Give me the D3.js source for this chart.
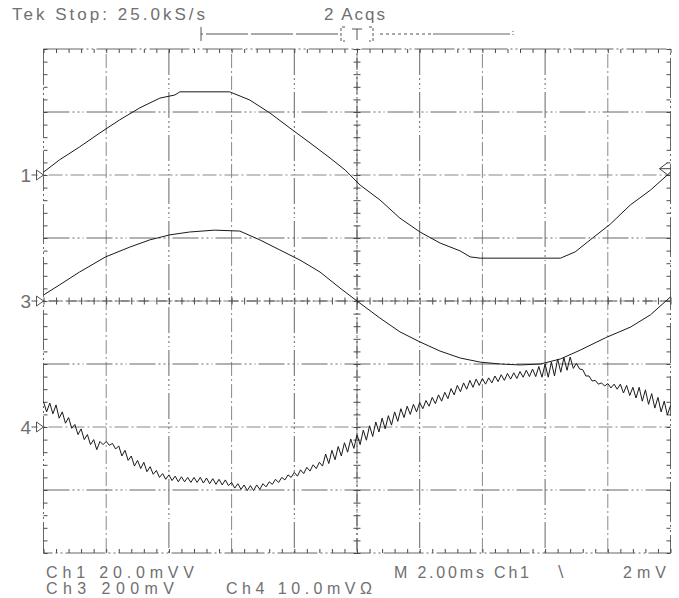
<!DOCTYPE html>
<html>
<head>
<meta charset="utf-8">
<script src="https://cdn.jsdelivr.net/npm/d3@7"></script>
<style>
  body { margin: 0; background: #fff; }
  text { font-family: "Liberation Sans", Arial, sans-serif; fill: #707070; }
  .tick line { stroke: #4a4a4a; }
</style>
</head>
<body>
<div id="chart" style="width:679px;height:598px"></div>
<script>
// --- DATA (time in ms, values in each channel's own mV) ---
const ch1Time = [0, 0.51, 1.15, 1.79, 2.43, 3.07, 3.71, 4.19, 4.35, 5.94, 6.58, 7.22, 7.86, 8.50, 9.14, 9.62,
                 10.10, 10.73, 11.37, 12.01, 12.65, 13.29, 13.61, 13.93, 16.49, 16.96, 17.44, 18.08, 18.72, 19.36, 20.0];
const ch1mV = [0.9, 4.8, 8.9, 13.3, 17.5, 21.3, 24.4, 25.4, 26.4, 26.4, 23.8, 19.7, 14.9, 10.2, 5.4, 1.6,
               -3.2, -7.9, -13.7, -18.1, -21.6, -24.1, -26.0, -26.4, -26.4, -24.4, -20.6, -15.6, -9.5, -4.8, 0.9];

const ch3Time = [0, 0.51, 1.15, 1.98, 2.75, 3.39, 4.03, 4.66, 5.46, 6.26, 6.90, 7.54, 8.18, 8.82, 9.46, 10.0,
                 10.73, 11.37, 12.01, 12.65, 13.29, 13.93, 14.57, 15.21, 15.85, 16.49, 17.12, 17.92, 18.72, 19.36, 20.0];
const ch3mV = [19, 51, 92, 140, 171, 194, 210, 219, 225, 222, 194, 162, 130, 92, 41, 0,
               -54, -98, -130, -159, -181, -194, -200, -203, -200, -184, -156, -117, -83, -44, 13];

// ch4 is sampled every 0.1 ms (noisy trace)
const ch4Step = 0.1;
const ch4mV = [
  4.0, 2.4, 3.8, 2.1, 3.5, 1.4, 2.4, 0.6, 1.5, -0.2,
  0.4, -1.2, -0.3, -2.0, -1.2, -2.8, -2.0, -3.6, -2.3, -2.8,
  -2.3, -2.9, -2.6, -3.5, -3.0, -4.6, -3.7, -5.3, -4.6, -6.2,
  -5.3, -6.6, -5.6, -7.1, -6.3, -7.5, -6.9, -8.0, -7.4, -8.3,
  -7.6, -8.5, -7.8, -8.7, -7.9, -8.7, -8.0, -8.8, -8.0, -8.8,
  -8.0, -8.9, -8.1, -9.0, -8.2, -9.1, -8.3, -9.2, -8.4, -9.3,
  -8.8, -9.7, -9.0, -9.9, -9.2, -10.1, -9.3, -10.1, -9.2, -9.9,
  -9.0, -9.5, -8.7, -9.1, -8.3, -8.8, -8.0, -8.4, -7.6, -8.0,
  -7.2, -7.8, -6.8, -7.4, -6.4, -7.0, -6.0, -6.6, -5.6, -6.2,
  -4.3, -5.8, -3.7, -5.2, -3.1, -4.6, -2.5, -4.0, -1.9, -3.4,
  -1.2, -2.8, -0.5, -2.1, 0.2, -1.5, 0.8, -0.8, 1.4, -0.3,
  1.8, 0.3, 2.4, 0.9, 2.9, 1.5, 3.3, 2.0, 3.6, 2.4,
  3.9, 2.9, 4.2, 3.3, 4.7, 3.7, 5.1, 4.1, 5.5, 4.5,
  6.1, 5.1, 6.6, 5.6, 7.0, 6.0, 7.4, 6.3, 7.6, 6.6,
  7.7, 6.8, 7.8, 7.0, 8.1, 7.2, 8.3, 7.4, 8.5, 7.6,
  8.6, 7.7, 8.8, 7.9, 9.0, 8.0, 9.2, 8.0, 9.6, 7.9,
  10.0, 7.9, 10.3, 8.1, 10.8, 8.7, 11.0, 9.0, 11.1, 9.3,
  10.1, 9.2, 9.1, 8.1, 8.1, 7.3, 7.4, 6.8, 7.0, 6.5,
  6.9, 6.2, 6.8, 6.0, 6.8, 5.4, 6.6, 5.0, 6.3, 4.6,
  6.3, 4.1, 5.9, 3.6, 5.3, 3.0, 4.7, 2.4, 4.1, 1.9,
  3.4
];

// channel setup: label, mV per division, ground marker position (divisions)
const channels = ["1", "3", "4"];
const voltsPerDiv = [20, 200, 10];
const groundDiv = [2, 0, -2];
const triggerLevel = 2; // mV on ch1

const headerLabels = ["Tek Stop: 25.0kS/s", "2 Acqs"];
const footerRow1 = ["Ch1  20.0mVV", "M 2.00ms  Ch1", "\u2216", "2mV"];
const footerRow2 = ["Ch3   200mV", "Ch4   10.0mV\u03A9"];

// --- SVG ---
const width = 679, height = 598;
const margin = {top: 49, left: 43.5, right: 8.5, bottom: 45};

const svg = d3.select("#chart").append("svg")
    .attr("width", width)
    .attr("height", height);

const xScale = d3.scaleLinear().domain([0, 20]).range([margin.left, width - margin.right]);
const yScale = d3.scaleLinear().domain([-4, 4]).range([height - margin.bottom, margin.top]);

// graticule
const gridStyle = "26,3,2,3,2,3,1,3";
svg.append("g").selectAll("line")
    .data(d3.range(2, 20, 2))
    .enter().append("line")
    .attr("x1", d => xScale(d)).attr("x2", d => xScale(d))
    .attr("y1", yScale(4)).attr("y2", yScale(-4))
    .attr("stroke", (d, i) => i % 2 ? "#666" : "#888")
    .attr("stroke-width", 1)
    .attr("stroke-dasharray", (d, i) => i % 2 ? gridStyle : "2,3,14,3");

svg.append("g").selectAll("line")
    .data(d3.range(-3, 4, 1))
    .enter().append("line")
    .attr("x1", xScale(0)).attr("x2", xScale(20))
    .attr("y1", d => yScale(d)).attr("y2", d => yScale(d))
    .attr("stroke", (d, i) => i % 2 ? "#888" : "#666")
    .attr("stroke-width", 1)
    .attr("stroke-dasharray", (d, i) => i % 2 ? "2,3,14,3" : gridStyle);

// border
svg.append("rect")
    .attr("x", xScale(0)).attr("y", yScale(4))
    .attr("width", xScale(20) - xScale(0))
    .attr("height", yScale(-4) - yScale(4))
    .attr("fill", "none")
    .attr("stroke", "#666")
    .attr("stroke-dasharray", "40,3,2,3,2,3");

// minor ticks with d3 axes
const xMinor = d3.range(0, 20.01, 0.4);
const yMinor = d3.range(-4, 4.01, 0.2);
function tickAxis(axis, tx, ty) {
    const g = svg.append("g")
        .attr("transform", `translate(${tx},${ty})`)
        .call(axis.tickFormat(""));
    g.select(".domain").remove();
    return g;
}
tickAxis(d3.axisBottom(xScale).tickValues(xMinor).tickSize(4), 0, yScale(4));
tickAxis(d3.axisTop(xScale).tickValues(xMinor).tickSize(4), 0, yScale(-4));
tickAxis(d3.axisRight(yScale).tickValues(yMinor).tickSize(4), xScale(0), 0);
tickAxis(d3.axisLeft(yScale).tickValues(yMinor).tickSize(4), xScale(20), 0);
tickAxis(d3.axisTop(xScale).tickValues(xMinor).tickSize(7), 0, yScale(0) + 3.5);
tickAxis(d3.axisLeft(yScale).tickValues(yMinor).tickSize(7), xScale(10) + 3.5, 0);

// center cross lines
svg.append("line")
    .attr("x1", xScale(0)).attr("x2", xScale(20))
    .attr("y1", yScale(0)).attr("y2", yScale(0))
    .attr("stroke", "#555").attr("stroke-dasharray", "1,4,10,3");
svg.append("line")
    .attr("x1", xScale(10)).attr("x2", xScale(10))
    .attr("y1", yScale(4)).attr("y2", yScale(-4))
    .attr("stroke", "#555").attr("stroke-dasharray", "1,3,2,3,12,3");

// --- TRACES ---
function trace(times, values, k) {
    const pts = values.map((v, i) => [times[i], groundDiv[k] + v / voltsPerDiv[k]]);
    const line = d3.line()
        .x(d => xScale(d[0]))
        .y(d => yScale(d[1]));
    svg.append("path")
        .datum(pts)
        .attr("d", line)
        .attr("fill", "none")
        .attr("stroke", "#1a1a1a")
        .attr("stroke-width", 1);
}
trace(ch1Time, ch1mV, 0);
trace(ch3Time, ch3mV, 1);
trace(ch4mV.map((v, i) => i * ch4Step), ch4mV, 2);

// ground markers
channels.forEach((c, k) => {
    const yy = yScale(groundDiv[k]);
    const x0 = xScale(0);
    svg.append("text")
        .attr("x", x0 - 23).attr("y", yy + 7)
        .attr("font-size", 19)
        .text(c);
    svg.append("line")
        .attr("x1", x0 - 12).attr("x2", x0 - 6)
        .attr("y1", yy).attr("y2", yy)
        .attr("stroke", "#555");
    svg.append("path")
        .attr("d", `M${x0 - 7},${yy - 5}L${x0},${yy}L${x0 - 7},${yy + 5}Z`)
        .attr("fill", "none")
        .attr("stroke", "#555");
});

// trigger level marker (right edge)
const ty = yScale(groundDiv[0] + triggerLevel / voltsPerDiv[0]);
const xr = xScale(20);
svg.append("path")
    .attr("d", `M${xr - 3},${ty - 6}L${xr - 11},${ty}L${xr - 3},${ty + 6}M${xr - 11},${ty}L${xr},${ty}`)
    .attr("fill", "none")
    .attr("stroke", "#444");

// --- record bar on top ---
const bar = svg.append("g").attr("stroke", "#555").attr("fill", "none");
bar.append("line").attr("x1", 201).attr("x2", 201).attr("y1", 27).attr("y2", 41);
bar.append("line").attr("x1", 201).attr("x2", 340).attr("y1", 34).attr("y2", 34).attr("stroke-dasharray", "2,3,40,0");
bar.append("path").attr("d", "M345,27H341V41H345M369,27H373V41H369").attr("stroke-dasharray", "3,2");
bar.append("path").attr("d", "M352,29H362M357,29V40");
bar.append("line").attr("x1", 380).attr("x2", 433).attr("y1", 34).attr("y2", 34).attr("stroke-dasharray", "3,3");
bar.append("line").attr("x1", 433).attr("x2", 510).attr("y1", 34).attr("y2", 34).attr("stroke", "#999").attr("stroke-width", 1.5);
bar.append("line").attr("x1", 513).attr("x2", 513).attr("y1", 31).attr("y2", 37).attr("stroke-dasharray", "1,2");

// --- texts ---
svg.append("text").attr("x", 12).attr("y", 20).attr("font-size", 17)
    .attr("textLength", 193).text(headerLabels[0]);
svg.append("text").attr("x", 324).attr("y", 20).attr("font-size", 17)
    .attr("textLength", 61).text(headerLabels[1]);

const row1X = [46, 394, 555, 623], row1W = [148, 135, 11, 43];
footerRow1.forEach((t, i) => {
    svg.append("text").attr("x", row1X[i]).attr("y", 578).attr("font-size", 16)
        .attr("textLength", row1W[i]).text(t);
});
const row2X = [46, 226], row2W = [128, 146];
footerRow2.forEach((t, i) => {
    svg.append("text").attr("x", row2X[i]).attr("y", 594).attr("font-size", 16)
        .attr("textLength", row2W[i]).text(t);
});
</script>
</body>
</html>
